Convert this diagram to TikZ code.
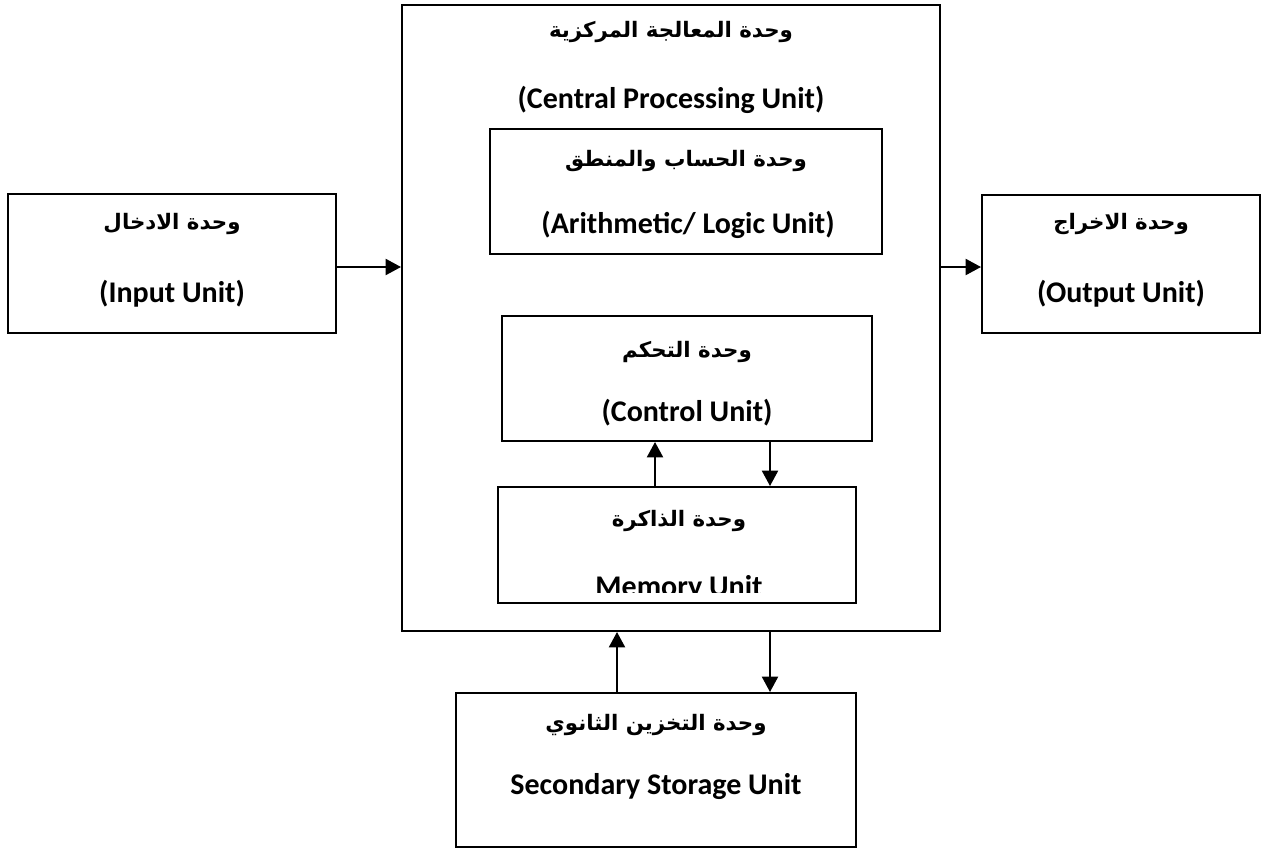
\documentclass[tikz,border=0pt]{standalone}
\usepackage{fontspec}
\setmainfont{Carlito}
\newfontfamily\arabicfont[Script=Arabic]{DejaVu Sans}
\TeXXeTstate=1
\usetikzlibrary{arrows.meta}
\begin{document}
\begin{tikzpicture}[x=0.75pt,y=-0.75pt,
  box/.style={draw, line width=1.5pt, inner sep=0pt},
  arr/.style={line width=1.5pt, -{Triangle[length=11.5pt,width=12pt]}},
  en/.style={font=\bfseries\fontsize{22.5}{27}\selectfont, inner sep=0pt},
  ar/.style={font=\arabicfont\bfseries\fontsize{16}{20}\selectfont, inner sep=0pt}]
\useasboundingbox (0,0) rectangle (1262,850);
% boxes
\node[box, minimum width=328*0.75pt, minimum height=139*0.75pt] (in) at (172,263.5) {};
\node[box, minimum width=278*0.75pt, minimum height=138*0.75pt] (out) at (1121,264) {};
\node[box, minimum width=538*0.75pt, minimum height=626*0.75pt] (cpu) at (671,318) {};
\node[box, minimum width=392*0.75pt, minimum height=125*0.75pt] (alu) at (686,191.5) {};
\node[box, minimum width=370*0.75pt, minimum height=125*0.75pt] (ctrl) at (687,378.5) {};
\node[box, minimum width=358*0.75pt, minimum height=116*0.75pt] (mem) at (677,545) {};
\node[box, minimum width=400*0.75pt, minimum height=154*0.75pt] (sec) at (656,770) {};
% texts
\node[ar] (inar) at (172,224) {\beginR وحدة الادخال\endR};
\node[en] (inen) at (172,294) {(Input Unit)};
\node[ar] (outar) at (1121,224) {\beginR وحدة الاخراج\endR};
\node[en] (outen) at (1121,294) {(Output Unit)};
\node[ar] (cpuar) at (671,32) {\beginR وحدة المعالجة المركزية\endR};
\node[en] (cpuen) at (671,100) {(Central Processing Unit)};
\node[ar] (aluar) at (686,161) {\beginR وحدة الحساب والمنطق\endR};
\node[en] (aluen) at (688,225) {(Arithmetic/ Logic Unit)};
\node[ar] (ctrlar) at (687,352) {\beginR وحدة التحكم\endR};
\node[en] (ctrlen) at (687,413) {(Control Unit)};
\node[ar] (memar) at (679,521) {\beginR وحدة الذاكرة\endR};
\begin{scope}
\clip (498,470) rectangle (856,592);
\node[en, anchor=base] (memen) at (679,596) {Memory Unit};
\end{scope}
\node[ar] (secar) at (656,725) {\beginR وحدة التخزين الثانوي\endR};
\node[en, anchor=base] (secen) at (656,794) {Secondary Storage Unit};
% connectors
\coordinate (xa) at (655,0);
\coordinate (xb) at (770,0);
\coordinate (xc) at (617,0);
\coordinate (yl) at (0,267);
\draw[arr] (in.east |- yl) -- (cpu.west |- yl);
\draw[arr] (cpu.east |- yl) -- (out.west |- yl);
\draw[arr] (mem.north -| xa) -- (ctrl.south -| xa);
\draw[arr] (ctrl.south -| xb) -- (mem.north -| xb);
\draw[arr] (sec.north -| xc) -- (cpu.south -| xc);
\draw[arr] (cpu.south -| xb) -- (sec.north -| xb);
\end{tikzpicture}
\end{document}
